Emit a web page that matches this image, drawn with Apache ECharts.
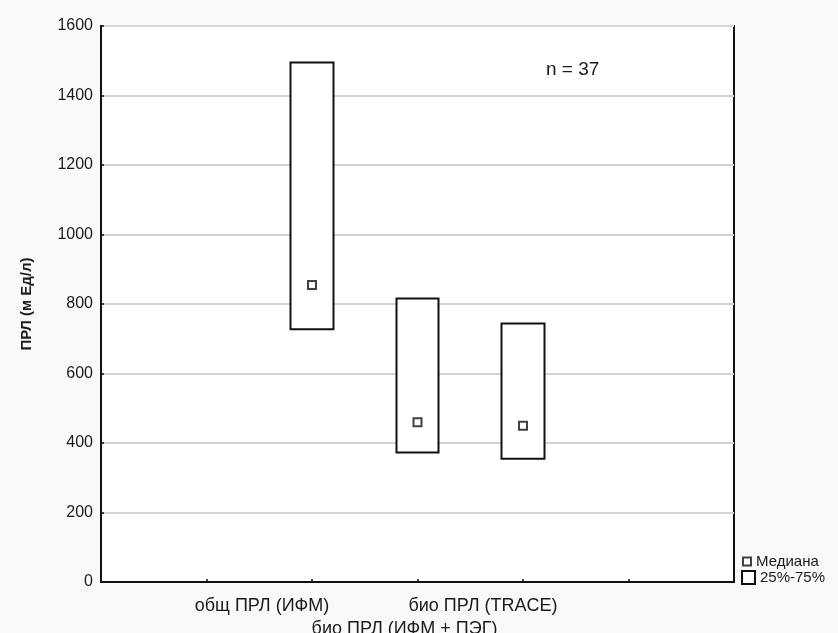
<!DOCTYPE html>
<html>
<head>
<meta charset="utf-8">
<script src="https://cdn.jsdelivr.net/npm/echarts@6/dist/echarts.min.js"></script>
<style>html,body{margin:0;padding:0;background:#f9f9f9}#c{width:838px;height:633px}</style>
</head>
<body>
<div id="c"></div>
<script>
var categories = ['', '', 'общ ПРЛ (ИФМ)', 'био ПРЛ (ИФМ + ПЭГ)', 'био ПРЛ (TRACE)', '', ''];
var q25 = [null, null, 727, 373, 355, null, null];
var q75 = [null, null, 1495, 816, 744, null, null];
var medians = [null, null, 855, 460, 450, null, null];
var yTicks = [0, 200, 400, 600, 800, 1000, 1200, 1400, 1600];

var boxData = categories.map(function (c, i) {
  return q25[i] == null ? '-' : [q25[i], q75[i], q25[i], q75[i]];
});
var medData = [];
categories.forEach(function (c, i) { if (medians[i] != null) medData.push([i, medians[i]]); });

var FF = 'Liberation Sans';
var labelRich = {
  a: { fontFamily: FF, fontSize: 18, color: '#1a1a1a', padding: [0, 100, 0, 0] },
  b: { fontFamily: FF, fontSize: 18, color: '#1a1a1a', padding: [23, 26, 0, 0] },
  c: { fontFamily: FF, fontSize: 18, color: '#1a1a1a', padding: [0, 80, 0, 0] }
};

var chart = echarts.init(document.getElementById('c'));
chart.setOption({
  backgroundColor: '#f9f9f9',
  animation: false,
  grid: { left: 101, right: 104, top: 26, bottom: 51, containLabel: false, outerBoundsMode: 'none',
    show: true, backgroundColor: '#fff', borderColor: '#111', borderWidth: 2 },
  xAxis: {
    type: 'category', data: categories, boundaryGap: false,
    axisLine: { lineStyle: { color: '#111', width: 2 } },
    axisTick: { inside: true, length: 3, lineStyle: { color: '#111', width: 1.5 } },
    axisLabel: {
      interval: 0, margin: 15,
      formatter: function (v, i) {
        if (i === 2) return '{a|' + v + '}';
        if (i === 3) return '{b|' + v + '}';
        if (i === 4) return '{c|' + v + '}';
        return '';
      },
      rich: labelRich
    },
    splitLine: { show: false }
  },
  yAxis: {
    type: 'value', min: 0, max: 1600, interval: 200,
    name: 'ПРЛ (м Ед/л)', nameLocation: 'middle', nameGap: 67, nameRotate: 90,
    nameTextStyle: { fontFamily: FF, fontSize: 15, fontWeight: 'bold', color: '#1a1a1a' },
    axisLine: { show: true, lineStyle: { color: '#111', width: 2 } },
    axisTick: { show: true, inside: true, length: 3, lineStyle: { color: '#111', width: 1.5 } },
    axisLabel: { fontFamily: FF, fontSize: 16, color: '#1a1a1a', margin: 8,
      formatter: function (v) { return yTicks.indexOf(v) >= 0 ? String(v) : ''; } },
    splitLine: { lineStyle: { color: '#d4d4d4', width: 2 } }
  },
  legend: [
    { data: [{ name: 'Медиана', icon: 'rect' }], left: 742, top: 554, padding: 0, itemWidth: 8, itemHeight: 8, itemGap: 6,
      textStyle: { fontFamily: FF, fontSize: 15, color: '#1a1a1a' }, selectedMode: false },
    { data: [{ name: '25%-75%', icon: 'rect' }], left: 741, top: 570, padding: 0, itemWidth: 13, itemHeight: 13, itemGap: 2,
      textStyle: { fontFamily: FF, fontSize: 15, color: '#1a1a1a' }, selectedMode: false }
  ],
  graphic: [
    { type: 'text', left: 546, top: 60, style: { text: 'n = 37', fontFamily: FF, fontSize: 19, fill: '#1a1a1a' } }
  ],
  series: [
    {
      name: '25%-75%', type: 'candlestick', data: boxData, barWidth: 43,
      itemStyle: { color: '#fff', color0: '#fff', borderColor: '#111', borderColor0: '#111', borderWidth: 2 },
      z: 3
    },
    {
      name: 'Медиана', type: 'scatter', data: medData, symbol: 'rect', symbolSize: 8,
      itemStyle: { color: '#fff', borderColor: '#111', borderWidth: 2 }, z: 5
    }
  ]
});
</script>
</body>
</html>
